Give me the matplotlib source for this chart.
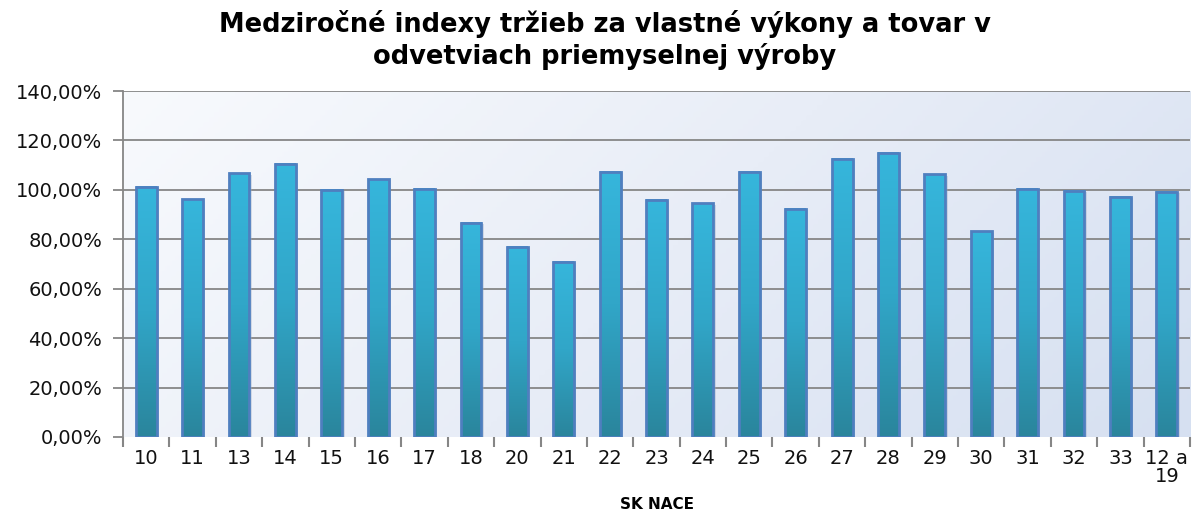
import matplotlib.pyplot as plt
import numpy as np
from matplotlib.colors import LinearSegmentedColormap

# Data (percent)
categories = ['10', '11', '13', '14', '15', '16', '17', '18', '20', '21', '22', '23',
              '24', '25', '26', '27', '28', '29', '30', '31', '32', '33', '12 a\n19']
values = [101.2, 96.3, 106.8, 110.5, 100.0, 104.4, 100.5, 86.7, 77.0, 70.9, 107.4, 96.0,
          94.6, 107.4, 92.4, 112.6, 115.1, 106.3, 83.2, 100.5, 99.7, 97.3, 99.3]
yticks = [0, 20, 40, 60, 80, 100, 120, 140]

fig = plt.figure(figsize=(11.93, 5.15), dpi=100)
ax = fig.add_axes([0.1031, 0.1515, 0.8944, 0.6718])

n = len(categories)
x = np.arange(n)

# background diagonal gradient
bg = LinearSegmentedColormap.from_list('bg', ['#f8fafd', '#e8edf7', '#d6e0f1'])
gx, gy = np.meshgrid(np.linspace(0, 1, 200), np.linspace(0, 1, 200))
grad = (gx * 0.75 + gy * 0.25)
ax.imshow(grad, cmap=bg, extent=[0, 1, 0, 1], transform=ax.transAxes,
          aspect='auto', zorder=0, origin='upper')

# gridlines
for t in yticks[1:]:
    ax.axhline(t, color='#868686', lw=1.3, zorder=1)

# bars with vertical gradient
barcm = LinearSegmentedColormap.from_list('bar', ['#2a859c', '#31a6c8', '#36b6dc'])
w = 0.45
vgrad = np.linspace(1, 0, 256).reshape(-1, 1)
for xi, v in zip(x, values):
    # soft shadow
    ax.bar(xi + 0.05, v, width=w, bottom=-0.6, color='#9aa8c0', alpha=0.35, zorder=2)
    ax.imshow(vgrad, cmap=barcm, extent=[xi - w / 2, xi + w / 2, 0, v],
              aspect='auto', zorder=3, vmin=0, vmax=1, interpolation='bilinear')
    ax.bar(xi, v, width=w, facecolor='none', edgecolor='#4f7fbf', lw=2, zorder=4)
ax.set_xlim(-0.5, n - 0.5)
ax.set_ylim(0, 140)

ax.set_yticks(yticks)
ax.set_yticklabels([f'{t},00%' for t in yticks], fontsize=14, color='#111111')
ax.set_xticks(x)
ax.set_xticklabels(categories, fontsize=14, color='#111111', linespacing=0.9, va='top')
ax.set_xticks(np.arange(-0.5, n, 1), minor=True)
ax.tick_params(axis='x', which='major', length=0, pad=9)
ax.tick_params(axis='x', which='minor', length=7, width=1.5, color='#868686', direction='out')
ax.tick_params(axis='y', length=7, width=1.3, color='#868686', pad=8)

for s in ['top', 'right', 'bottom']:
    ax.spines[s].set_visible(False)
ax.spines['left'].set_color('#868686')
ax.spines['left'].set_linewidth(1.3)

ax.set_xlabel('SK NACE', fontsize=11, fontweight='bold', labelpad=8)
fig.text(0.507, 0.922, 'Medziročné indexy tržieb za vlastné výkony a tovar v\nodvetviach priemyselnej výroby',
         ha='center', va='center', fontsize=18.5, fontweight='bold', linespacing=1.25)

fig.savefig('out.png', dpi=100)
